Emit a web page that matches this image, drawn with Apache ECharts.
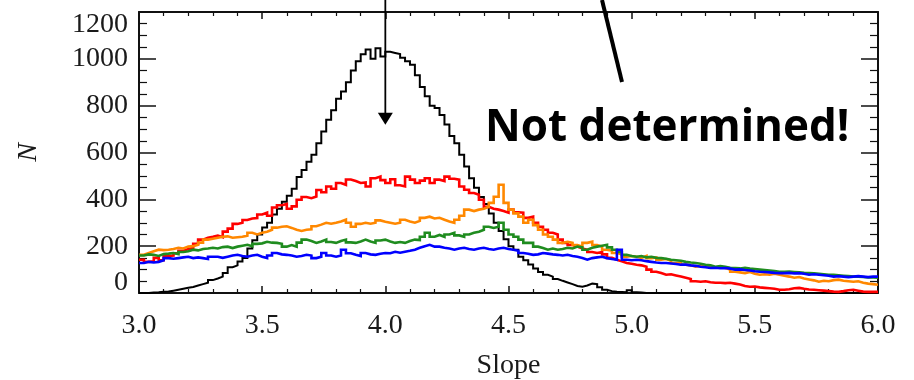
<!DOCTYPE html>
<html>
<head>
<meta charset="utf-8">
<script src="https://cdn.jsdelivr.net/npm/echarts@6/dist/echarts.min.js"></script>
<style>
  html, body { margin: 0; padding: 0; background: #ffffff; }
  #chart { width: 914px; height: 380px; }
</style>
</head>
<body>
<div id="chart"></div>
<script>
// Histogram binning: bins of width 0.02 starting at slope 3.0
const binStart = 3.0;
const binWidth = 0.02;

// Tick labels
const xTickLabels = ['3.0', '3.5', '4.0', '4.5', '5.0', '5.5', '6.0'];
const yTickLabels = ['0', '200', '400', '600', '800', '1000', '1200'];

// Counts per bin (N) for each distribution
const blackN = [
  0, 0, 2, 3, 5,   6, 10, 14, 18, 22,   26, 32, 38, 44, 55,   62, 70, 85, 110, 118,
  135, 150, 190, 225, 250,   280, 300, 335, 360, 390,   415, 445, 495, 525, 560,
  590, 640, 690, 740, 780,   830, 860, 900, 950, 990,   1020, 1040, 1000, 1045, 1010,
  1030, 1025, 1020, 1005, 990,   975, 930, 880, 840, 800,   790, 760, 720, 670, 640,
  590, 540, 490, 450, 410,   380, 340, 300, 265, 230,   200, 185, 155, 140, 122,
  105, 90, 78, 70, 60,   52, 45, 38, 30, 27,   32, 40, 38, 25, 14,
  8, 5, 4, 3, 12,   3, 2, 0, 0, 0,
  0, 0, 0, 0, 0,  0, 0, 0, 0, 0,  0, 0, 0, 0, 0,  0, 0, 0, 0, 0,  0, 0, 0, 0, 0,
  0, 0, 0, 0, 0,  0, 0, 0, 0, 0,  0, 0, 0, 0, 0,  0, 0, 0, 0, 0
];

const redN = [
  142, 133, 135, 150, 140,   158, 160, 170, 180, 188,   192, 210, 228, 236, 240,
  245, 238, 262, 275, 295,   300, 312, 318, 320, 335,   343, 330, 365, 375, 380,
  360, 370, 398, 410, 405,   412, 440, 430, 455, 445,   470, 462, 485, 478, 470,
  472, 455, 490, 497, 482,   470, 486, 460, 455, 497,   484, 470, 480, 490, 470,
  484, 478, 497, 488, 484,   455, 441, 427, 420, 398,   368, 360, 356, 350, 343,
  356, 345, 343, 321, 326,   300, 283, 270, 257, 250,   228, 214, 205, 198, 190,
  185, 175, 171, 175, 165,   150, 142, 135, 128, 125,   121, 118, 112, 100, 91,
  85, 78, 80, 75, 70,   65, 60, 50, 48, 50,   46, 44, 44, 42, 44,
  40, 36, 30, 27, 28,   24, 22, 20, 18, 14,   14, 16, 20, 22, 18,
  15, 14, 12, 10, 8,   6, 5, 8, 12, 14,   10, 6, 5, 5, 5
];

const orangeN = [
  163, 171, 178, 185, 183,   185, 188, 193, 190, 198,   200, 206, 215, 228, 232,
  236, 240, 242, 236, 238,   240, 245, 257, 250, 257,   262, 270, 279, 283, 285,
  278, 270, 265, 270, 272,   285, 292, 300, 296, 300,   305, 313, 300, 283, 295,
  300, 296, 300, 310, 304,   300, 296, 300, 313, 305,   300, 308, 321, 326, 318,
  321, 313, 305, 300, 313,   330, 356, 350, 356, 360,   368, 385, 411, 462, 385,
  356, 340, 326, 300, 313,   290, 270, 250, 240, 228,   214, 219, 214, 205, 198,
  214, 219, 205, 198, 185,   180, 171, 165, 155, 158,   155, 150, 158, 149, 152,
  142, 145, 138, 128, 130,   121, 118, 112, 115, 112,   112, 110, 112, 107, 100,
  91, 88, 85, 90, 82,   78, 80, 78, 82, 78,   74, 70, 65, 68, 62,
  58, 54, 48, 52, 50,   55, 57, 52, 50, 48,   50, 44, 40, 38, 35
];

const greenN = [
  160, 165, 163, 158, 166,   168, 171, 166, 175, 178,   185, 182, 188, 190, 193,
  190, 196, 198, 192, 198,   202, 206, 200, 210, 212,   219, 215, 214, 210, 198,
  205, 198, 215, 228, 222,   214, 220, 228, 218, 214,   222, 228, 216, 214, 220,
  228, 220, 214, 224, 228,   220, 214, 218, 214, 222,   228, 226, 240, 257, 240,
  248, 240, 250, 257, 246,   240, 250, 257, 262, 270,   283, 278, 283, 300, 270,
  250, 240, 228, 214, 214,   198, 192, 185, 190, 185,   188, 193, 190, 198, 195,
  185, 193, 198, 202, 206,   195, 185, 175, 163, 158,   155, 158, 152, 155, 150,
  149, 146, 142, 140, 138,   133, 130, 128, 125, 121,   118, 112, 115, 112, 108,
  107, 105, 108, 104, 102,   100, 98, 96, 94, 91,   91, 92, 90, 88, 86,
  85, 84, 82, 80, 78,   78, 76, 74, 72, 70,   70, 68, 66, 66, 65
];

const blueN = [
  128, 133, 130, 133, 140,   149, 146, 149, 152, 155,   149, 152, 149, 145, 155,
  155, 150, 155, 160, 163,   158, 155, 160, 163, 155,   149, 160, 171, 165, 163,
  160, 155, 158, 163, 160,   149, 155, 171, 160, 155,   160, 185, 170, 163, 158,
  171, 165, 163, 168, 171,   170, 176, 172, 176, 180,   185, 193, 200, 206, 198,
  198, 193, 190, 185, 190,   193, 188, 185, 190, 193,   188, 185, 190, 193, 188,
  185, 180, 171, 168, 163,   165, 171, 168, 165, 163,   160, 163, 158, 155, 149,
  142, 149, 152, 155, 149,   145, 142, 185, 142, 140,   142, 140, 136, 133, 130,
  128, 128, 126, 124, 121,   121, 118, 116, 112, 110,   107, 108, 106, 107, 104,
  100, 101, 98, 96, 93,   91, 90, 88, 86, 85,   85, 86, 84, 85, 82,
  78, 80, 78, 76, 74,   70, 72, 70, 68, 70,   72, 70, 68, 70, 70
];

// Marked slope (arrow) and where the arrow tip ends, in data units
const arrowSlope = 4.0;
const arrowTipN = 719;

// Turn bin counts into step-line points: each bin's left edge, plus the closing edge
function toSteps(counts) {
  const pts = counts.map((v, i) => [binStart + i * binWidth, v]);
  pts.push([binStart + counts.length * binWidth, counts[counts.length - 1]]);
  return pts;
}

const serifFont = '"Liberation Serif", "Times New Roman", serif';
const frameColor = '#111111';
const labelColor = '#1a1a1a';

function histSeries(name, counts, color, width) {
  return {
    name: name,
    type: 'line',
    step: 'end',
    data: toSteps(counts),
    showSymbol: false,
    symbol: 'none',
    clip: true,
    lineStyle: { color: color, width: width, join: 'miter' },
    emphasis: { disabled: true },
    animation: false,
    xAxisIndex: 0,
    yAxisIndex: 0
  };
}

function xAxisDef(position, showLabels) {
  return {
    type: 'value',
    position: position,
    min: 3.0,
    max: 6.0,
    interval: 0.5,
    name: showLabels ? 'Slope' : '',
    nameLocation: 'middle',
    nameGap: 59,
    nameTextStyle: { fontFamily: serifFont, fontSize: 28, color: labelColor },
    axisLine: { show: true, onZero: false, lineStyle: { color: frameColor, width: 2 } },
    axisTick: { show: true, inside: true, length: 7, lineStyle: { color: frameColor, width: 1.5 } },
    minorTick: { show: true, splitNumber: 5, length: 4, lineStyle: { color: frameColor, width: 1.2 } },
    splitLine: { show: false },
    minorSplitLine: { show: false },
    axisLabel: {
      show: showLabels,
      margin: 19,
      fontFamily: serifFont,
      fontSize: 28,
      color: labelColor,
      formatter: function (v) {
        const s = v.toFixed(1);
        return xTickLabels.indexOf(s) >= 0 ? s : '';
      }
    }
  };
}

function yAxisDef(position, showLabels) {
  return {
    type: 'value',
    position: position,
    min: 0,
    max: 1200,
    interval: 200,
    name: showLabels ? 'N' : '',
    nameLocation: 'middle',
    nameGap: 96,
    nameRotate: 90,
    nameTextStyle: { fontFamily: serifFont, fontSize: 28, fontStyle: 'italic', color: labelColor },
    axisLine: { show: true, onZero: false, lineStyle: { color: frameColor, width: 2 } },
    axisTick: { show: true, inside: true, length: 17, lineStyle: { color: frameColor, width: 1.5 } },
    minorTick: { show: true, splitNumber: 4, length: 8, lineStyle: { color: frameColor, width: 1.2 } },
    splitLine: { show: false },
    minorSplitLine: { show: false },
    axisLabel: {
      show: showLabels,
      margin: 11,
      fontFamily: serifFont,
      fontSize: 28,
      color: labelColor,
      formatter: function (v) {
        const s = String(v);
        if (yTickLabels.indexOf(s) < 0) return '';
        if (s === '1200') return '{top|' + s + '}';
        if (s === '0') return '{bot|' + s + '}';
        return s;
      },
      rich: {
        top: { fontFamily: serifFont, fontSize: 28, color: labelColor, padding: [26, 0, 0, 0] },
        bot: { fontFamily: serifFont, fontSize: 28, color: labelColor, padding: [0, 0, 20, 0] }
      }
    }
  };
}

const chart = echarts.init(document.getElementById('chart'), null, { renderer: 'canvas' });

const option = {
  animation: false,
  backgroundColor: '#ffffff',
  grid: {
    left: 139,
    right: 36,
    top: 12,
    bottom: 87,
    containLabel: false,
    outerBoundsMode: 'none'
  },
  xAxis: [xAxisDef('bottom', true), xAxisDef('top', false)],
  yAxis: [yAxisDef('left', true), yAxisDef('right', false)],
  series: [
    histSeries('black', blackN, '#000000', 2),
    histSeries('red', redN, '#ff0000', 2.6),
    histSeries('orange', orangeN, '#ff8800', 2.6),
    histSeries('green', greenN, '#1f8c1f', 2.6),
    histSeries('blue', blueN, '#0000ff', 2.6)
  ]
};

chart.setOption(option);

// Arrow marking slope 4.0, placed through the chart's own coordinate system
const tip = chart.convertToPixel({ gridIndex: 0 }, [arrowSlope, arrowTipN]);
const headH = 12;
const headW = 15;

chart.setOption({
  graphic: [
    {
      type: 'line',
      shape: { x1: tip[0], y1: 0, x2: tip[0], y2: tip[1] - headH + 1 },
      style: { stroke: '#000000', lineWidth: 1.8 },
      z: 100
    },
    {
      type: 'polygon',
      shape: { points: [[tip[0] - headW / 2, tip[1] - headH], [tip[0] + headW / 2, tip[1] - headH], [tip[0], tip[1]]] },
      style: { fill: '#000000' },
      z: 100
    },
    {
      type: 'line',
      shape: { x1: 602, y1: 0, x2: 622, y2: 82 },
      style: { stroke: '#000000', lineWidth: 4 },
      z: 100
    },
    {
      type: 'text',
      x: 485,
      y: 128,
      style: {
        text: 'Not determined!',
        font: 'bold 44px "Open Sans", Lato, sans-serif',
        fill: '#000000',
        align: 'left',
        verticalAlign: 'middle'
      },
      z: 100
    }
  ]
});
</script>
</body>
</html>
